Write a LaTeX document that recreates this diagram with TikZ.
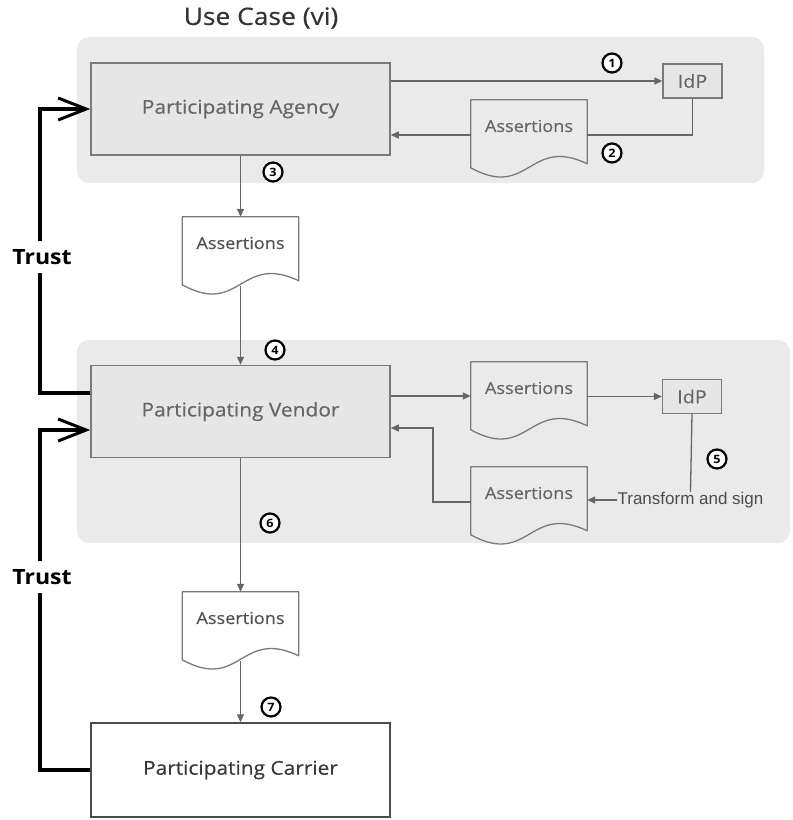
\documentclass[tikz,border=0pt]{standalone}
\usepackage{fontspec}
\setmainfont{Open Sans}
\newfontfamily\osf[FakeStretch=1.1,FakeBold=0.4]{Open Sans}
\newfontfamily\osfb[FakeStretch=1.1]{Open Sans}
\newfontfamily\arialf{Liberation Sans}
\usetikzlibrary{arrows.meta,calc}

\definecolor{panelgray}{HTML}{EAEAEA}
\definecolor{boxgray}{HTML}{E6E6E6}
\definecolor{edgegray}{HTML}{7A7A7A}
\definecolor{textgray}{HTML}{666666}
\definecolor{linegray}{HTML}{666666}

\tikzset{
  panel/.style={fill=panelgray, draw=none, rounded corners=12pt},
  bigbox/.style={draw=edgegray, fill=boxgray, line width=1.5pt, minimum width=299pt, minimum height=92pt,
    font=\osf\fontsize{19}{22}\selectfont, text=textgray},
  carrierbox/.style={draw=black!70, fill=white, line width=1.5pt, minimum width=299pt, minimum height=94pt,
    font=\osf\fontsize{19}{22}\selectfont, text=black!78},
  idpbox/.style={draw=edgegray, fill=boxgray, line width=1.3pt, minimum width=59pt, minimum height=34pt,
    inner sep=0pt, font=\osf\fontsize{18}{20}\selectfont, text=textgray},
  docbox/.style={draw=none, minimum width=116pt, minimum height=52pt, inner sep=0pt,
    font=\osf\fontsize{16.5}{18}\selectfont, text=textgray},
  docline/.style={draw=edgegray, line width=1.3pt, line join=round},
  flow/.style={draw=linegray, line width=1.3pt, -{Triangle[length=8pt,width=7pt]}},
  flowline/.style={draw=linegray, line width=1.3pt},
  num/.style={circle, draw=black, line width=2.2pt, fill=white, minimum size=19pt, inner sep=0pt,
    font=\osfb\bfseries\fontsize{11.5}{12}\selectfont},
  trust/.style={draw=black, line width=4pt},
  trustarrow/.style={trust, -{Straight Barb[length=28pt,width=22pt,line width=3pt]}},
  trustlabel/.style={font=\osfb\bfseries\fontsize{21}{24}\selectfont, fill=white, inner xsep=2pt, inner ysep=8pt},
  signtext/.style={font=\arialf\fontsize{17}{20}\selectfont, text=black!70, inner sep=0pt},
  titletext/.style={font=\osf\fontsize{24}{28}\selectfont, text=black!80},
}

\newcommand\docoutline[1]{\draw[docline] (#1.north west) -- ++(0,68)
  .. controls +(58,32) and +(-58,-28) .. ($(#1.north east)+(0,64)$) -- (#1.north east) -- cycle;}

\begin{document}
\begin{tikzpicture}[x=1pt,y=-1pt]
\fill[white] (0,0) rectangle (793,820);
\useasboundingbox (0,0) rectangle (793,820);

% panels
\fill[panel] (77,37) rectangle (764,183);
\fill[panel] (77,340) rectangle (790,543);

% title
\node[titletext] (title) at (261,18) {Use Case (vi)};

% boxes
\node[bigbox] (agency) at (240.5,109) {Participating Agency};
\node[bigbox] (vendor) at (240.5,411.5) {Participating Vendor};
\node[carrierbox] (carrier) at (240.5,770) {Participating Carrier};
\node[idpbox] (idp1) at (692.5,81) {IdP};
\node[idpbox] (idp2) at (692,396.5) {IdP};

% documents
\node[docbox] (d1) at (529,126) {Assertions};
\node[docbox, text=black!68] (d2) at (240.5,243) {Assertions};
\node[docbox] (d3) at (529,388) {Assertions};
\node[docbox] (d4) at (529,493) {Assertions};
\node[docbox, text=black!68] (d5) at (240.5,618) {Assertions};
\docoutline{d1}
\docoutline{d2}
\docoutline{d3}
\docoutline{d4}
\docoutline{d5}

\node[signtext] (ts) at (690.5,500) {Transform and sign};

% flows
\draw[flow] (agency.east |- idp1.west) -- (idp1.west);
\coordinate (d1in) at ($(d1.east)+(0,9)$);
\coordinate (d1out) at ($(d1.west)+(0,9)$);
\draw[flowline] (idp1.south) |- (d1in);
\draw[flow] (d1out) -- (agency.east |- d1out);
\draw[flow] (agency.south) -- (d2.north);
\draw[flow] ($(d2.south)+(0,17)$) -- (vendor.north);
\coordinate (d3in) at ($(d3.west)+(0,8)$);
\draw[flow] (vendor.east |- d3in) -- (d3in);
\draw[flow] (d3.east |- idp2.west) -- (idp2.west);
\draw[flowline] (idp2.south) -- (ts.north);
\draw[flow] (ts.west) -- (ts.west -| d4.east);
\coordinate (d4out) at ($(d4.west)+(0,9)$);
\coordinate (bend) at (433,428);
\draw[flow] (d4out) -| (bend) -- (vendor.east |- bend);
\draw[flow] (vendor.south) -- (d5.north);
\draw[flow] ($(d5.south)+(0,17)$) -- (carrier.north);

% trust
\coordinate (trustx) at (40,0);
\draw[trustarrow] ($(vendor.west)+(0,-18.5)$) -| (trustx |- agency.west) -- (agency.west);
\draw[trustarrow] (carrier.west) -| ($(trustx |- vendor.west)+(0,18.5)$) -- ($(vendor.west)+(0,18.5)$);
\node[trustlabel] (trust1) at (42,257) {Trust};
\node[trustlabel] (trust2) at (42,577) {Trust};

% numbers
\node[num] (n1) at (612,63) {1};
\node[num] (n2) at (612,153) {2};
\node[num] (n3) at (273,172) {3};
\node[num] (n4) at (275,350) {4};
\node[num] (n5) at (717,459) {5};
\node[num] (n6) at (270,523) {6};
\node[num] (n7) at (271,707) {7};
\end{tikzpicture}
\end{document}
